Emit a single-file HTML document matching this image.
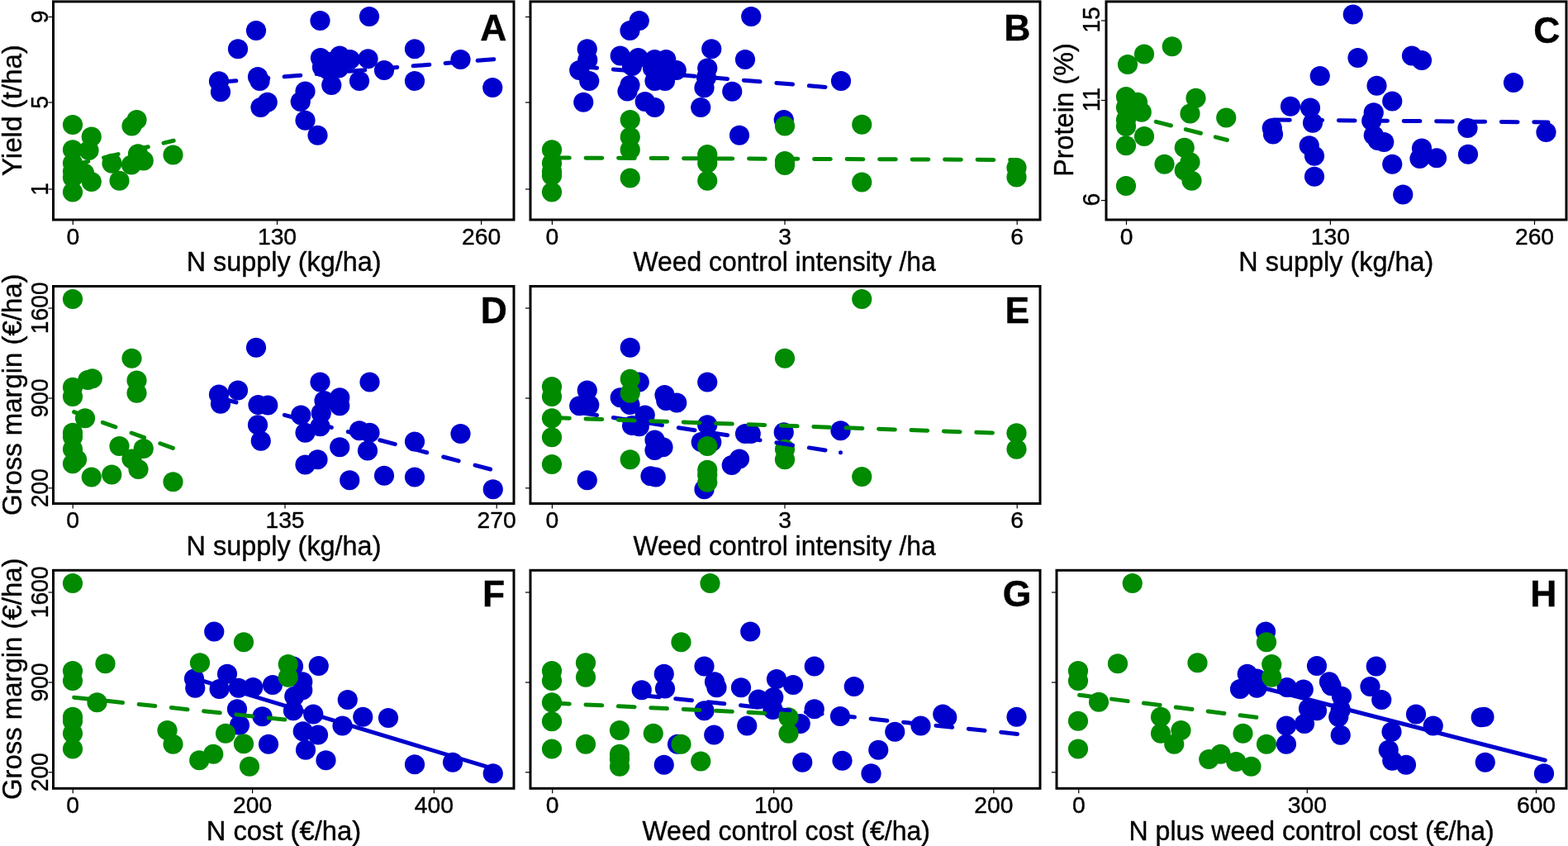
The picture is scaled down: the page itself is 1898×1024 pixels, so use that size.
<!DOCTYPE html>
<html><head><meta charset="utf-8"><title>Figure</title>
<style>
html,body{margin:0;padding:0;background:#fff;}
body{width:1898px;height:1024px;overflow:hidden;}
svg{display:block;}
svg text{font-family:'Liberation Sans', sans-serif;fill:#000;stroke:#000;stroke-width:0.4px;}
</style></head>
<body>
<svg width="1898" height="1024" viewBox="0 0 1898 1024">
<rect width="1898" height="1024" fill="#fff"/>
<g fill="#0000cd"><circle cx="265.00" cy="98.25" r="12.1"/><circle cx="267.00" cy="111.25" r="12.1"/><circle cx="288.00" cy="59.25" r="12.1"/><circle cx="310.00" cy="37.00" r="12.1"/><circle cx="312.00" cy="93.00" r="12.1"/><circle cx="314.50" cy="98.00" r="12.1"/><circle cx="315.50" cy="130.00" r="12.1"/><circle cx="323.75" cy="123.75" r="12.1"/><circle cx="363.75" cy="123.00" r="12.1"/><circle cx="369.50" cy="110.50" r="12.1"/><circle cx="369.50" cy="145.75" r="12.1"/><circle cx="384.50" cy="163.75" r="12.1"/><circle cx="387.50" cy="25.00" r="12.1"/><circle cx="447.00" cy="20.00" r="12.1"/><circle cx="388.00" cy="70.00" r="12.1"/><circle cx="390.00" cy="81.25" r="12.1"/><circle cx="397.50" cy="85.00" r="12.1"/><circle cx="411.25" cy="67.50" r="12.1"/><circle cx="410.00" cy="82.50" r="12.1"/><circle cx="423.75" cy="72.00" r="12.1"/><circle cx="400.00" cy="75.00" r="12.1"/><circle cx="445.50" cy="71.25" r="12.1"/><circle cx="401.25" cy="103.00" r="12.1"/><circle cx="435.00" cy="98.00" r="12.1"/><circle cx="465.00" cy="85.00" r="12.1"/><circle cx="502.00" cy="59.25" r="12.1"/><circle cx="502.00" cy="98.00" r="12.1"/><circle cx="557.50" cy="72.00" r="12.1"/><circle cx="596.25" cy="106.00" r="12.1"/></g>
<g fill="#008b00"><circle cx="88.00" cy="232.50" r="12.1"/><circle cx="88.00" cy="151.00" r="12.1"/><circle cx="88.00" cy="181.25" r="12.1"/><circle cx="88.00" cy="197.50" r="12.1"/><circle cx="88.00" cy="207.50" r="12.1"/><circle cx="88.00" cy="215.00" r="12.1"/><circle cx="110.75" cy="165.50" r="12.1"/><circle cx="107.50" cy="182.00" r="12.1"/><circle cx="102.00" cy="209.50" r="12.1"/><circle cx="110.75" cy="220.00" r="12.1"/><circle cx="135.50" cy="197.75" r="12.1"/><circle cx="144.50" cy="218.75" r="12.1"/><circle cx="159.50" cy="152.50" r="12.1"/><circle cx="165.50" cy="145.00" r="12.1"/><circle cx="167.00" cy="186.25" r="12.1"/><circle cx="159.00" cy="199.50" r="12.1"/><circle cx="173.75" cy="194.50" r="12.1"/><circle cx="209.50" cy="187.50" r="12.1"/></g>
<path d="M266.10 99.37L285.80 97.72M305.10 96.11L324.80 94.47M344.10 92.86L363.80 91.21M383.10 89.60L402.80 87.96M422.10 86.35L441.80 84.70M461.10 83.09L480.80 81.45M500.10 79.84L519.80 78.19M539.10 76.58L558.80 74.94M578.10 73.33L597.80 71.68" stroke="#0000cd" stroke-width="5.0" stroke-linecap="round" fill="none"/>
<path d="M89.30 199.69L106.80 195.42M125.55 190.85L143.05 186.58M161.80 182.01L179.30 177.74M198.05 173.16L210.20 170.20" stroke="#008b00" stroke-width="5.0" stroke-linecap="round" fill="none"/>
<rect x="64.50" y="1.90" width="557.50" height="264.10" fill="none" stroke="#000" stroke-width="3"/>
<line x1="88.30" y1="267.00" x2="88.30" y2="272.00" stroke="#000" stroke-width="1.2"/>
<text transform="translate(88.30 295.90) scale(1.0000 1)" font-size="28.3" text-anchor="middle">0</text>
<line x1="335.50" y1="267.00" x2="335.50" y2="272.00" stroke="#000" stroke-width="1.2"/>
<text transform="translate(335.50 295.90) scale(1.0000 1)" font-size="28.3" text-anchor="middle">130</text>
<line x1="582.60" y1="267.00" x2="582.60" y2="272.00" stroke="#000" stroke-width="1.2"/>
<text transform="translate(582.60 295.90) scale(1.0000 1)" font-size="28.3" text-anchor="middle">260</text>
<line x1="58.50" y1="20.50" x2="63.50" y2="20.50" stroke="#000" stroke-width="1.2"/>
<text transform="translate(57.50 20.30) rotate(-90) scale(0.9760 1)" font-size="29" text-anchor="middle">9</text>
<line x1="58.50" y1="124.00" x2="63.50" y2="124.00" stroke="#000" stroke-width="1.2"/>
<text transform="translate(57.50 123.80) rotate(-90) scale(0.9760 1)" font-size="29" text-anchor="middle">5</text>
<line x1="58.50" y1="229.00" x2="63.50" y2="229.00" stroke="#000" stroke-width="1.2"/>
<text transform="translate(57.50 228.80) rotate(-90) scale(0.9760 1)" font-size="29" text-anchor="middle">1</text>
<text transform="translate(343.60 328.40) scale(0.9530 1)" font-size="34" text-anchor="middle">N supply (kg/ha)</text>
<text transform="translate(25.60 133.60) rotate(-90) scale(0.9750 1)" font-size="34" text-anchor="middle">Yield (t/ha)</text>
<text transform="translate(597.25 48.90) scale(0.986 1)" font-size="45.1" font-weight="bold" text-anchor="middle">A</text>
<g fill="#0000cd"><circle cx="773.75" cy="25.00" r="12.1"/><circle cx="762.50" cy="37.00" r="12.1"/><circle cx="909.25" cy="20.00" r="12.1"/><circle cx="710.75" cy="59.25" r="12.1"/><circle cx="711.25" cy="72.50" r="12.1"/><circle cx="701.25" cy="85.00" r="12.1"/><circle cx="713.25" cy="98.00" r="12.1"/><circle cx="706.25" cy="123.75" r="12.1"/><circle cx="750.75" cy="67.50" r="12.1"/><circle cx="772.50" cy="70.00" r="12.1"/><circle cx="765.00" cy="80.00" r="12.1"/><circle cx="792.50" cy="72.00" r="12.1"/><circle cx="806.25" cy="72.00" r="12.1"/><circle cx="818.75" cy="85.00" r="12.1"/><circle cx="790.00" cy="82.50" r="12.1"/><circle cx="792.50" cy="98.00" r="12.1"/><circle cx="805.00" cy="98.00" r="12.1"/><circle cx="800.00" cy="87.50" r="12.1"/><circle cx="762.50" cy="103.00" r="12.1"/><circle cx="759.50" cy="110.50" r="12.1"/><circle cx="780.75" cy="123.00" r="12.1"/><circle cx="792.50" cy="130.00" r="12.1"/><circle cx="861.25" cy="59.25" r="12.1"/><circle cx="856.25" cy="82.50" r="12.1"/><circle cx="855.00" cy="93.75" r="12.1"/><circle cx="852.50" cy="106.25" r="12.1"/><circle cx="848.25" cy="130.00" r="12.1"/><circle cx="902.00" cy="72.00" r="12.1"/><circle cx="886.25" cy="110.75" r="12.1"/><circle cx="895.00" cy="163.75" r="12.1"/><circle cx="948.75" cy="145.00" r="12.1"/><circle cx="1018.00" cy="98.00" r="12.1"/></g>
<g fill="#008b00"><circle cx="668.00" cy="232.50" r="12.1"/><circle cx="668.00" cy="181.25" r="12.1"/><circle cx="668.00" cy="197.50" r="12.1"/><circle cx="668.00" cy="207.50" r="12.1"/><circle cx="668.00" cy="212.50" r="12.1"/><circle cx="762.75" cy="145.00" r="12.1"/><circle cx="762.75" cy="165.75" r="12.1"/><circle cx="762.75" cy="181.25" r="12.1"/><circle cx="762.75" cy="215.50" r="12.1"/><circle cx="856.25" cy="187.00" r="12.1"/><circle cx="856.25" cy="197.50" r="12.1"/><circle cx="856.25" cy="218.75" r="12.1"/><circle cx="950.00" cy="152.50" r="12.1"/><circle cx="950.00" cy="195.00" r="12.1"/><circle cx="950.00" cy="200.00" r="12.1"/><circle cx="1043.25" cy="150.75" r="12.1"/><circle cx="1043.25" cy="220.50" r="12.1"/><circle cx="1230.50" cy="203.00" r="12.1"/><circle cx="1230.50" cy="214.50" r="12.1"/></g>
<path d="M702.85 80.63L722.55 82.28M742.35 83.94L762.05 85.59M781.85 87.24L801.55 88.89M821.35 90.55L841.05 92.20M860.85 93.85L880.55 95.50M900.35 97.16L920.05 98.81M939.85 100.46L959.55 102.11M979.35 103.77L999.05 105.41M1018.00 107.00L1018.01 107.00" stroke="#0000cd" stroke-width="5.0" stroke-linecap="round" fill="none"/>
<path d="M669.60 191.01L689.30 191.09M709.10 191.18L728.80 191.27M748.60 191.36L768.30 191.45M788.10 191.53L807.80 191.62M827.60 191.71L847.30 191.80M867.10 191.88L886.80 191.97M906.60 192.06L926.30 192.15M946.10 192.24L965.80 192.32M985.60 192.41L1005.30 192.50M1025.10 192.59L1044.80 192.67M1064.60 192.76L1084.30 192.85M1104.10 192.94L1123.80 193.03M1143.60 193.11L1163.30 193.20M1183.10 193.29L1202.80 193.38M1222.60 193.46L1230.50 193.50" stroke="#008b00" stroke-width="5.0" stroke-linecap="round" fill="none"/>
<rect x="642.00" y="1.90" width="617.00" height="264.10" fill="none" stroke="#000" stroke-width="3"/>
<line x1="668.40" y1="267.00" x2="668.40" y2="272.00" stroke="#000" stroke-width="1.2"/>
<text transform="translate(668.40 295.90) scale(1.0000 1)" font-size="28.3" text-anchor="middle">0</text>
<line x1="950.00" y1="267.00" x2="950.00" y2="272.00" stroke="#000" stroke-width="1.2"/>
<text transform="translate(950.00 295.90) scale(1.0000 1)" font-size="28.3" text-anchor="middle">3</text>
<line x1="1231.20" y1="267.00" x2="1231.20" y2="272.00" stroke="#000" stroke-width="1.2"/>
<text transform="translate(1231.20 295.90) scale(1.0000 1)" font-size="28.3" text-anchor="middle">6</text>
<line x1="636.00" y1="20.50" x2="641.00" y2="20.50" stroke="#000" stroke-width="1.2"/>
<line x1="636.00" y1="124.00" x2="641.00" y2="124.00" stroke="#000" stroke-width="1.2"/>
<line x1="636.00" y1="229.00" x2="641.00" y2="229.00" stroke="#000" stroke-width="1.2"/>
<text transform="translate(949.60 328.40) scale(0.9380 1)" font-size="34" text-anchor="middle">Weed control intensity /ha</text>
<text transform="translate(1231.25 48.90) scale(0.986 1)" font-size="45.1" font-weight="bold" text-anchor="middle">B</text>
<g fill="#0000cd"><circle cx="1637.75" cy="17.50" r="12.1"/><circle cx="1643.50" cy="70.00" r="12.1"/><circle cx="1597.75" cy="92.00" r="12.1"/><circle cx="1709.00" cy="67.50" r="12.1"/><circle cx="1721.00" cy="73.00" r="12.1"/><circle cx="1666.50" cy="103.75" r="12.1"/><circle cx="1685.25" cy="122.50" r="12.1"/><circle cx="1562.00" cy="128.75" r="12.1"/><circle cx="1586.00" cy="130.50" r="12.1"/><circle cx="1589.00" cy="148.75" r="12.1"/><circle cx="1539.75" cy="155.00" r="12.1"/><circle cx="1541.00" cy="162.50" r="12.1"/><circle cx="1584.75" cy="176.25" r="12.1"/><circle cx="1591.00" cy="188.75" r="12.1"/><circle cx="1591.00" cy="213.75" r="12.1"/><circle cx="1662.75" cy="136.25" r="12.1"/><circle cx="1660.25" cy="146.25" r="12.1"/><circle cx="1662.75" cy="163.75" r="12.1"/><circle cx="1667.75" cy="170.00" r="12.1"/><circle cx="1675.25" cy="172.00" r="12.1"/><circle cx="1685.25" cy="198.75" r="12.1"/><circle cx="1698.25" cy="235.50" r="12.1"/><circle cx="1721.00" cy="179.50" r="12.1"/><circle cx="1718.50" cy="192.00" r="12.1"/><circle cx="1739.00" cy="191.25" r="12.1"/><circle cx="1776.50" cy="155.00" r="12.1"/><circle cx="1777.00" cy="186.75" r="12.1"/><circle cx="1832.00" cy="100.00" r="12.1"/><circle cx="1871.50" cy="160.00" r="12.1"/></g>
<g fill="#008b00"><circle cx="1363.00" cy="225.00" r="12.1"/><circle cx="1363.00" cy="176.25" r="12.1"/><circle cx="1363.00" cy="153.00" r="12.1"/><circle cx="1363.00" cy="145.00" r="12.1"/><circle cx="1363.00" cy="130.00" r="12.1"/><circle cx="1363.00" cy="117.00" r="12.1"/><circle cx="1365.00" cy="78.00" r="12.1"/><circle cx="1377.00" cy="123.75" r="12.1"/><circle cx="1381.75" cy="135.75" r="12.1"/><circle cx="1385.00" cy="65.50" r="12.1"/><circle cx="1385.00" cy="165.00" r="12.1"/><circle cx="1418.75" cy="56.25" r="12.1"/><circle cx="1409.50" cy="198.75" r="12.1"/><circle cx="1433.75" cy="178.75" r="12.1"/><circle cx="1440.50" cy="137.50" r="12.1"/><circle cx="1447.50" cy="118.75" r="12.1"/><circle cx="1440.50" cy="196.25" r="12.1"/><circle cx="1433.75" cy="206.25" r="12.1"/><circle cx="1442.50" cy="218.75" r="12.1"/><circle cx="1484.25" cy="142.50" r="12.1"/></g>
<path d="M1541.60 145.01L1561.30 145.19M1581.00 145.37L1600.70 145.55M1620.40 145.72L1640.10 145.90M1659.80 146.08L1679.50 146.25M1699.20 146.43L1718.90 146.61M1738.60 146.78L1758.30 146.96M1778.00 147.14L1797.70 147.31M1817.40 147.49L1837.10 147.67M1856.80 147.85L1874.00 148.00" stroke="#0000cd" stroke-width="5.0" stroke-linecap="round" fill="none"/>
<path d="M1363.30 138.04L1381.40 142.71M1399.30 147.32L1417.40 151.98M1435.30 156.59L1453.40 161.26M1471.30 165.87L1485.40 169.50" stroke="#008b00" stroke-width="5.0" stroke-linecap="round" fill="none"/>
<rect x="1339.00" y="1.90" width="557.00" height="264.10" fill="none" stroke="#000" stroke-width="3"/>
<line x1="1363.50" y1="267.00" x2="1363.50" y2="272.00" stroke="#000" stroke-width="1.2"/>
<text transform="translate(1363.50 295.90) scale(1.0000 1)" font-size="28.3" text-anchor="middle">0</text>
<line x1="1610.40" y1="267.00" x2="1610.40" y2="272.00" stroke="#000" stroke-width="1.2"/>
<text transform="translate(1610.40 295.90) scale(1.0000 1)" font-size="28.3" text-anchor="middle">130</text>
<line x1="1857.50" y1="267.00" x2="1857.50" y2="272.00" stroke="#000" stroke-width="1.2"/>
<text transform="translate(1857.50 295.90) scale(1.0000 1)" font-size="28.3" text-anchor="middle">260</text>
<line x1="1333.00" y1="25.00" x2="1338.00" y2="25.00" stroke="#000" stroke-width="1.2"/>
<text transform="translate(1330.60 24.00) rotate(-90) scale(0.9760 1)" font-size="29" text-anchor="middle">15</text>
<line x1="1333.00" y1="121.50" x2="1338.00" y2="121.50" stroke="#000" stroke-width="1.2"/>
<text transform="translate(1330.60 120.50) rotate(-90) scale(0.9760 1)" font-size="29" text-anchor="middle">11</text>
<line x1="1333.00" y1="242.60" x2="1338.00" y2="242.60" stroke="#000" stroke-width="1.2"/>
<text transform="translate(1330.60 241.60) rotate(-90) scale(0.9760 1)" font-size="29" text-anchor="middle">6</text>
<text transform="translate(1617.30 328.40) scale(0.9530 1)" font-size="34" text-anchor="middle">N supply (kg/ha)</text>
<text transform="translate(1299.30 133.00) rotate(-90) scale(0.9500 1)" font-size="34" text-anchor="middle">Protein (%)</text>
<text transform="translate(1872.25 52.30) scale(0.986 1)" font-size="45.1" font-weight="bold" text-anchor="middle">C</text>
<g fill="#0000cd"><circle cx="310.00" cy="420.75" r="12.1"/><circle cx="265.00" cy="477.50" r="12.1"/><circle cx="267.00" cy="488.75" r="12.1"/><circle cx="288.00" cy="472.50" r="12.1"/><circle cx="312.50" cy="490.00" r="12.1"/><circle cx="324.25" cy="490.50" r="12.1"/><circle cx="312.00" cy="514.25" r="12.1"/><circle cx="315.75" cy="533.75" r="12.1"/><circle cx="387.50" cy="462.50" r="12.1"/><circle cx="447.50" cy="462.50" r="12.1"/><circle cx="411.25" cy="481.25" r="12.1"/><circle cx="411.25" cy="491.25" r="12.1"/><circle cx="392.50" cy="485.00" r="12.1"/><circle cx="388.75" cy="500.00" r="12.1"/><circle cx="387.50" cy="516.25" r="12.1"/><circle cx="364.25" cy="502.50" r="12.1"/><circle cx="369.50" cy="523.75" r="12.1"/><circle cx="435.00" cy="521.25" r="12.1"/><circle cx="447.50" cy="523.75" r="12.1"/><circle cx="411.25" cy="541.25" r="12.1"/><circle cx="445.00" cy="545.50" r="12.1"/><circle cx="369.50" cy="562.50" r="12.1"/><circle cx="384.50" cy="556.25" r="12.1"/><circle cx="423.25" cy="581.25" r="12.1"/><circle cx="465.00" cy="575.75" r="12.1"/><circle cx="502.00" cy="534.50" r="12.1"/><circle cx="502.00" cy="577.50" r="12.1"/><circle cx="557.50" cy="525.00" r="12.1"/><circle cx="596.75" cy="592.25" r="12.1"/></g>
<g fill="#008b00"><circle cx="88.00" cy="362.00" r="12.1"/><circle cx="159.50" cy="433.75" r="12.1"/><circle cx="111.75" cy="458.25" r="12.1"/><circle cx="106.25" cy="460.00" r="12.1"/><circle cx="88.00" cy="468.75" r="12.1"/><circle cx="88.00" cy="480.00" r="12.1"/><circle cx="165.50" cy="460.50" r="12.1"/><circle cx="165.50" cy="475.75" r="12.1"/><circle cx="103.00" cy="506.25" r="12.1"/><circle cx="88.00" cy="523.75" r="12.1"/><circle cx="88.00" cy="528.75" r="12.1"/><circle cx="88.00" cy="543.75" r="12.1"/><circle cx="88.00" cy="561.25" r="12.1"/><circle cx="93.00" cy="556.25" r="12.1"/><circle cx="144.50" cy="540.00" r="12.1"/><circle cx="173.75" cy="543.00" r="12.1"/><circle cx="159.50" cy="555.50" r="12.1"/><circle cx="167.50" cy="568.00" r="12.1"/><circle cx="110.75" cy="577.50" r="12.1"/><circle cx="135.25" cy="574.50" r="12.1"/><circle cx="209.50" cy="583.25" r="12.1"/></g>
<path d="M267.50 482.16L286.00 487.03M305.95 492.28L324.45 497.15M344.40 502.40L362.90 507.27M382.85 512.53L401.35 517.40M421.30 522.65L439.80 527.52M459.75 532.77L478.25 537.64M498.20 542.90L516.70 547.77M536.65 553.02L555.15 557.89M575.10 563.14L593.60 568.01" stroke="#0000cd" stroke-width="5.0" stroke-linecap="round" fill="none"/>
<path d="M89.60 498.59L105.10 504.26M124.35 511.30L139.85 516.97M159.10 524.01L174.60 529.68M193.85 536.73L209.35 542.40" stroke="#008b00" stroke-width="5.0" stroke-linecap="round" fill="none"/>
<rect x="64.50" y="346.50" width="557.50" height="263.00" fill="none" stroke="#000" stroke-width="3"/>
<line x1="88.20" y1="610.50" x2="88.20" y2="615.50" stroke="#000" stroke-width="1.2"/>
<text transform="translate(88.20 639.40) scale(1.0000 1)" font-size="28.3" text-anchor="middle">0</text>
<line x1="345.00" y1="610.50" x2="345.00" y2="615.50" stroke="#000" stroke-width="1.2"/>
<text transform="translate(345.00 639.40) scale(1.0000 1)" font-size="28.3" text-anchor="middle">135</text>
<line x1="601.20" y1="610.50" x2="601.20" y2="615.50" stroke="#000" stroke-width="1.2"/>
<text transform="translate(601.20 639.40) scale(1.0000 1)" font-size="28.3" text-anchor="middle">270</text>
<line x1="58.50" y1="373.00" x2="63.50" y2="373.00" stroke="#000" stroke-width="1.2"/>
<text transform="translate(57.50 372.80) rotate(-90) scale(0.9760 1)" font-size="29" text-anchor="middle">1600</text>
<line x1="58.50" y1="482.00" x2="63.50" y2="482.00" stroke="#000" stroke-width="1.2"/>
<text transform="translate(57.50 481.80) rotate(-90) scale(0.9760 1)" font-size="29" text-anchor="middle">900</text>
<line x1="58.50" y1="590.80" x2="63.50" y2="590.80" stroke="#000" stroke-width="1.2"/>
<text transform="translate(57.50 590.60) rotate(-90) scale(0.9760 1)" font-size="29" text-anchor="middle">200</text>
<text transform="translate(343.50 671.90) scale(0.9530 1)" font-size="34" text-anchor="middle">N supply (kg/ha)</text>
<text transform="translate(25.60 477.80) rotate(-90) scale(0.9680 1)" font-size="34" text-anchor="middle">Gross margin (€/ha)</text>
<text transform="translate(597.90 390.90) scale(0.986 1)" font-size="45.1" font-weight="bold" text-anchor="middle">D</text>
<g fill="#0000cd"><circle cx="762.75" cy="420.75" r="12.1"/><circle cx="710.75" cy="472.50" r="12.1"/><circle cx="701.25" cy="491.25" r="12.1"/><circle cx="713.25" cy="490.00" r="12.1"/><circle cx="773.75" cy="462.50" r="12.1"/><circle cx="750.75" cy="481.25" r="12.1"/><circle cx="762.50" cy="490.00" r="12.1"/><circle cx="780.75" cy="502.50" r="12.1"/><circle cx="765.00" cy="515.00" r="12.1"/><circle cx="773.75" cy="516.25" r="12.1"/><circle cx="804.50" cy="478.00" r="12.1"/><circle cx="806.25" cy="485.00" r="12.1"/><circle cx="819.25" cy="487.50" r="12.1"/><circle cx="792.50" cy="532.50" r="12.1"/><circle cx="802.50" cy="541.25" r="12.1"/><circle cx="792.50" cy="545.00" r="12.1"/><circle cx="856.25" cy="462.50" r="12.1"/><circle cx="856.25" cy="514.25" r="12.1"/><circle cx="848.75" cy="535.00" r="12.1"/><circle cx="861.25" cy="535.00" r="12.1"/><circle cx="902.00" cy="525.00" r="12.1"/><circle cx="908.75" cy="525.00" r="12.1"/><circle cx="948.75" cy="523.25" r="12.1"/><circle cx="1017.50" cy="521.25" r="12.1"/><circle cx="895.00" cy="555.50" r="12.1"/><circle cx="885.75" cy="563.00" r="12.1"/><circle cx="710.75" cy="581.25" r="12.1"/><circle cx="787.50" cy="576.25" r="12.1"/><circle cx="793.75" cy="577.50" r="12.1"/><circle cx="852.50" cy="592.25" r="12.1"/></g>
<g fill="#008b00"><circle cx="668.00" cy="468.00" r="12.1"/><circle cx="668.00" cy="480.00" r="12.1"/><circle cx="668.00" cy="506.25" r="12.1"/><circle cx="668.00" cy="529.25" r="12.1"/><circle cx="668.00" cy="562.00" r="12.1"/><circle cx="762.75" cy="458.75" r="12.1"/><circle cx="762.75" cy="475.75" r="12.1"/><circle cx="762.75" cy="556.25" r="12.1"/><circle cx="856.25" cy="540.00" r="12.1"/><circle cx="856.25" cy="568.75" r="12.1"/><circle cx="856.25" cy="575.00" r="12.1"/><circle cx="856.25" cy="583.75" r="12.1"/><circle cx="950.00" cy="433.75" r="12.1"/><circle cx="950.00" cy="543.75" r="12.1"/><circle cx="950.00" cy="556.25" r="12.1"/><circle cx="1043.25" cy="362.00" r="12.1"/><circle cx="1043.25" cy="577.00" r="12.1"/><circle cx="1230.50" cy="524.25" r="12.1"/><circle cx="1230.50" cy="543.75" r="12.1"/></g>
<path d="M702.85 499.50L722.55 502.52M742.35 505.55L762.05 508.57M781.85 511.61L801.55 514.63M821.35 517.67L841.05 520.69M860.85 523.73L880.55 526.75M900.35 529.78L920.05 532.81M939.85 535.84L959.55 538.86M979.35 541.90L999.05 544.92M1017.50 547.75L1017.51 547.75" stroke="#0000cd" stroke-width="5.0" stroke-linecap="round" fill="none"/>
<path d="M669.60 505.56L689.30 506.24M709.00 506.92L728.70 507.60M748.40 508.29L768.10 508.97M787.80 509.65L807.50 510.34M827.20 511.02L846.90 511.70M866.60 512.38L886.30 513.07M906.00 513.75L925.70 514.43M945.40 515.12L965.10 515.80M984.80 516.48L1004.50 517.17M1024.20 517.85L1043.90 518.53M1063.60 519.21L1083.30 519.90M1103.00 520.58L1122.70 521.26M1142.40 521.95L1162.10 522.63M1181.80 523.31L1201.50 523.99M1221.20 524.68L1230.50 525.00" stroke="#008b00" stroke-width="5.0" stroke-linecap="round" fill="none"/>
<rect x="642.00" y="346.50" width="617.00" height="263.00" fill="none" stroke="#000" stroke-width="3"/>
<line x1="668.40" y1="610.50" x2="668.40" y2="615.50" stroke="#000" stroke-width="1.2"/>
<text transform="translate(668.40 639.40) scale(1.0000 1)" font-size="28.3" text-anchor="middle">0</text>
<line x1="950.00" y1="610.50" x2="950.00" y2="615.50" stroke="#000" stroke-width="1.2"/>
<text transform="translate(950.00 639.40) scale(1.0000 1)" font-size="28.3" text-anchor="middle">3</text>
<line x1="1231.20" y1="610.50" x2="1231.20" y2="615.50" stroke="#000" stroke-width="1.2"/>
<text transform="translate(1231.20 639.40) scale(1.0000 1)" font-size="28.3" text-anchor="middle">6</text>
<line x1="636.00" y1="373.00" x2="641.00" y2="373.00" stroke="#000" stroke-width="1.2"/>
<line x1="636.00" y1="482.00" x2="641.00" y2="482.00" stroke="#000" stroke-width="1.2"/>
<line x1="636.00" y1="590.80" x2="641.00" y2="590.80" stroke="#000" stroke-width="1.2"/>
<text transform="translate(949.60 671.90) scale(0.9380 1)" font-size="34" text-anchor="middle">Weed control intensity /ha</text>
<text transform="translate(1231.40 390.90) scale(0.986 1)" font-size="45.1" font-weight="bold" text-anchor="middle">E</text>
<g fill="#0000cd"><circle cx="502.00" cy="925.25" r="12.1"/><circle cx="548.00" cy="922.75" r="12.1"/><circle cx="596.75" cy="936.25" r="12.1"/><circle cx="470.00" cy="869.00" r="12.1"/><circle cx="439.25" cy="867.75" r="12.1"/><circle cx="420.75" cy="847.00" r="12.1"/><circle cx="414.50" cy="878.50" r="12.1"/><circle cx="394.50" cy="920.25" r="12.1"/><circle cx="370.00" cy="907.75" r="12.1"/><circle cx="325.00" cy="900.75" r="12.1"/><circle cx="366.75" cy="885.25" r="12.1"/><circle cx="385.00" cy="889.50" r="12.1"/><circle cx="379.25" cy="864.50" r="12.1"/><circle cx="355.00" cy="860.25" r="12.1"/><circle cx="385.75" cy="806.00" r="12.1"/><circle cx="355.00" cy="806.50" r="12.1"/><circle cx="366.25" cy="825.25" r="12.1"/><circle cx="366.25" cy="835.25" r="12.1"/><circle cx="356.25" cy="842.75" r="12.1"/><circle cx="330.00" cy="829.00" r="12.1"/><circle cx="306.25" cy="832.00" r="12.1"/><circle cx="288.75" cy="832.75" r="12.1"/><circle cx="275.00" cy="815.75" r="12.1"/><circle cx="265.50" cy="834.00" r="12.1"/><circle cx="287.00" cy="858.25" r="12.1"/><circle cx="290.00" cy="877.75" r="12.1"/><circle cx="317.50" cy="867.25" r="12.1"/><circle cx="259.25" cy="764.50" r="12.1"/><circle cx="235.00" cy="821.50" r="12.1"/><circle cx="236.25" cy="832.75" r="12.1"/></g>
<g fill="#008b00"><circle cx="88.00" cy="706.00" r="12.1"/><circle cx="88.00" cy="812.00" r="12.1"/><circle cx="88.00" cy="824.00" r="12.1"/><circle cx="127.50" cy="803.25" r="12.1"/><circle cx="117.50" cy="850.25" r="12.1"/><circle cx="88.00" cy="867.75" r="12.1"/><circle cx="88.00" cy="872.75" r="12.1"/><circle cx="88.00" cy="887.75" r="12.1"/><circle cx="88.00" cy="906.50" r="12.1"/><circle cx="202.50" cy="884.00" r="12.1"/><circle cx="209.50" cy="900.75" r="12.1"/><circle cx="242.00" cy="802.25" r="12.1"/><circle cx="295.00" cy="777.25" r="12.1"/><circle cx="348.75" cy="804.00" r="12.1"/><circle cx="348.75" cy="819.75" r="12.1"/><circle cx="273.00" cy="887.75" r="12.1"/><circle cx="295.00" cy="900.25" r="12.1"/><circle cx="241.25" cy="920.25" r="12.1"/><circle cx="258.25" cy="912.75" r="12.1"/><circle cx="302.00" cy="927.75" r="12.1"/></g>
<path d="M235.00 821.00L597.00 930.40" stroke="#0000cd" stroke-width="5.0" stroke-linecap="round" fill="none"/>
<path d="M89.60 844.17L109.30 846.25M128.85 848.31L148.55 850.39M168.10 852.45L187.80 854.53M207.35 856.59L227.05 858.66M246.60 860.73L266.30 862.80M285.85 864.87L305.55 866.94M325.10 869.01L344.80 871.08" stroke="#008b00" stroke-width="5.0" stroke-linecap="round" fill="none"/>
<rect x="64.50" y="690.30" width="557.50" height="264.00" fill="none" stroke="#000" stroke-width="3"/>
<line x1="88.20" y1="955.30" x2="88.20" y2="960.30" stroke="#000" stroke-width="1.2"/>
<text transform="translate(88.20 984.20) scale(1.0000 1)" font-size="28.3" text-anchor="middle">0</text>
<line x1="305.60" y1="955.30" x2="305.60" y2="960.30" stroke="#000" stroke-width="1.2"/>
<text transform="translate(305.60 984.20) scale(1.0000 1)" font-size="28.3" text-anchor="middle">200</text>
<line x1="525.40" y1="955.30" x2="525.40" y2="960.30" stroke="#000" stroke-width="1.2"/>
<text transform="translate(525.40 984.20) scale(1.0000 1)" font-size="28.3" text-anchor="middle">400</text>
<line x1="58.50" y1="717.00" x2="63.50" y2="717.00" stroke="#000" stroke-width="1.2"/>
<text transform="translate(57.50 716.80) rotate(-90) scale(0.9760 1)" font-size="29" text-anchor="middle">1600</text>
<line x1="58.50" y1="826.00" x2="63.50" y2="826.00" stroke="#000" stroke-width="1.2"/>
<text transform="translate(57.50 825.80) rotate(-90) scale(0.9760 1)" font-size="29" text-anchor="middle">900</text>
<line x1="58.50" y1="934.80" x2="63.50" y2="934.80" stroke="#000" stroke-width="1.2"/>
<text transform="translate(57.50 934.60) rotate(-90) scale(0.9760 1)" font-size="29" text-anchor="middle">200</text>
<text transform="translate(343.40 1016.70) scale(0.9640 1)" font-size="34" text-anchor="middle">N cost (€/ha)</text>
<text transform="translate(25.60 821.80) rotate(-90) scale(0.9680 1)" font-size="34" text-anchor="middle">Gross margin (€/ha)</text>
<text transform="translate(597.60 733.90) scale(0.986 1)" font-size="45.1" font-weight="bold" text-anchor="middle">F</text>
<g fill="#0000cd"><circle cx="908.25" cy="764.50" r="12.1"/><circle cx="852.50" cy="806.50" r="12.1"/><circle cx="985.75" cy="806.50" r="12.1"/><circle cx="803.75" cy="815.75" r="12.1"/><circle cx="776.75" cy="835.25" r="12.1"/><circle cx="805.00" cy="833.50" r="12.1"/><circle cx="865.00" cy="825.25" r="12.1"/><circle cx="867.50" cy="832.25" r="12.1"/><circle cx="897.00" cy="832.25" r="12.1"/><circle cx="940.00" cy="822.00" r="12.1"/><circle cx="960.00" cy="829.00" r="12.1"/><circle cx="1033.75" cy="831.00" r="12.1"/><circle cx="918.00" cy="846.50" r="12.1"/><circle cx="936.25" cy="844.00" r="12.1"/><circle cx="935.50" cy="859.00" r="12.1"/><circle cx="852.50" cy="860.25" r="12.1"/><circle cx="985.75" cy="858.25" r="12.1"/><circle cx="1017.00" cy="867.00" r="12.1"/><circle cx="968.75" cy="876.00" r="12.1"/><circle cx="904.25" cy="878.50" r="12.1"/><circle cx="864.25" cy="889.50" r="12.1"/><circle cx="1083.25" cy="885.75" r="12.1"/><circle cx="1063.25" cy="907.75" r="12.1"/><circle cx="820.00" cy="900.75" r="12.1"/><circle cx="803.75" cy="925.75" r="12.1"/><circle cx="971.25" cy="922.75" r="12.1"/><circle cx="1019.50" cy="920.75" r="12.1"/><circle cx="1054.50" cy="936.25" r="12.1"/><circle cx="1114.50" cy="878.50" r="12.1"/><circle cx="1141.25" cy="864.50" r="12.1"/><circle cx="1146.25" cy="868.25" r="12.1"/><circle cx="1230.50" cy="867.75" r="12.1"/></g>
<g fill="#008b00"><circle cx="859.50" cy="706.00" r="12.1"/><circle cx="824.50" cy="777.25" r="12.1"/><circle cx="709.00" cy="802.25" r="12.1"/><circle cx="709.00" cy="819.75" r="12.1"/><circle cx="668.00" cy="812.00" r="12.1"/><circle cx="668.00" cy="824.00" r="12.1"/><circle cx="668.00" cy="850.25" r="12.1"/><circle cx="668.00" cy="873.25" r="12.1"/><circle cx="668.00" cy="906.50" r="12.1"/><circle cx="709.00" cy="900.75" r="12.1"/><circle cx="750.00" cy="884.00" r="12.1"/><circle cx="750.00" cy="912.75" r="12.1"/><circle cx="750.00" cy="919.00" r="12.1"/><circle cx="750.00" cy="927.75" r="12.1"/><circle cx="790.75" cy="887.75" r="12.1"/><circle cx="824.50" cy="900.75" r="12.1"/><circle cx="848.25" cy="921.50" r="12.1"/><circle cx="954.50" cy="868.25" r="12.1"/><circle cx="954.50" cy="887.75" r="12.1"/></g>
<path d="M778.35 841.67L798.05 843.70M817.75 845.73L837.45 847.76M857.15 849.79L876.85 851.82M896.55 853.85L916.25 855.89M935.95 857.92L955.65 859.95M975.35 861.98L995.05 864.01M1014.75 866.04L1034.45 868.08M1054.15 870.11L1073.85 872.14M1093.55 874.17L1113.25 876.20M1132.95 878.23L1152.65 880.27M1172.35 882.30L1192.05 884.33M1211.75 886.36L1231.45 888.39" stroke="#0000cd" stroke-width="5.0" stroke-linecap="round" fill="none"/>
<path d="M669.60 851.08L689.30 852.00M709.00 852.93L728.70 853.86M748.40 854.79L768.10 855.72M787.80 856.65L807.50 857.57M827.20 858.50L846.90 859.43M866.60 860.36L886.30 861.29M906.00 862.21L925.70 863.14M945.40 864.07L954.50 864.50" stroke="#008b00" stroke-width="5.0" stroke-linecap="round" fill="none"/>
<rect x="642.00" y="690.30" width="617.00" height="264.00" fill="none" stroke="#000" stroke-width="3"/>
<line x1="668.70" y1="955.30" x2="668.70" y2="960.30" stroke="#000" stroke-width="1.2"/>
<text transform="translate(668.70 984.20) scale(1.0000 1)" font-size="28.3" text-anchor="middle">0</text>
<line x1="936.60" y1="955.30" x2="936.60" y2="960.30" stroke="#000" stroke-width="1.2"/>
<text transform="translate(936.60 984.20) scale(1.0000 1)" font-size="28.3" text-anchor="middle">100</text>
<line x1="1202.80" y1="955.30" x2="1202.80" y2="960.30" stroke="#000" stroke-width="1.2"/>
<text transform="translate(1202.80 984.20) scale(1.0000 1)" font-size="28.3" text-anchor="middle">200</text>
<line x1="636.00" y1="717.00" x2="641.00" y2="717.00" stroke="#000" stroke-width="1.2"/>
<line x1="636.00" y1="826.00" x2="641.00" y2="826.00" stroke="#000" stroke-width="1.2"/>
<line x1="636.00" y1="934.80" x2="641.00" y2="934.80" stroke="#000" stroke-width="1.2"/>
<text transform="translate(951.70 1016.70) scale(0.9430 1)" font-size="34" text-anchor="middle">Weed control cost (€/ha)</text>
<text transform="translate(1231.00 734.40) scale(0.986 1)" font-size="45.1" font-weight="bold" text-anchor="middle">G</text>
<g fill="#0000cd"><circle cx="1734.75" cy="878.50" r="12.1"/><circle cx="1714.00" cy="864.50" r="12.1"/><circle cx="1792.75" cy="868.25" r="12.1"/><circle cx="1796.50" cy="867.75" r="12.1"/><circle cx="1797.75" cy="922.75" r="12.1"/><circle cx="1869.00" cy="936.25" r="12.1"/><circle cx="1684.50" cy="885.75" r="12.1"/><circle cx="1680.75" cy="907.75" r="12.1"/><circle cx="1685.25" cy="920.75" r="12.1"/><circle cx="1702.00" cy="925.75" r="12.1"/><circle cx="1665.75" cy="806.50" r="12.1"/><circle cx="1658.50" cy="831.00" r="12.1"/><circle cx="1672.25" cy="847.00" r="12.1"/><circle cx="1594.00" cy="806.00" r="12.1"/><circle cx="1609.00" cy="825.25" r="12.1"/><circle cx="1611.50" cy="830.25" r="12.1"/><circle cx="1624.00" cy="842.75" r="12.1"/><circle cx="1622.75" cy="859.00" r="12.1"/><circle cx="1620.25" cy="867.75" r="12.1"/><circle cx="1622.75" cy="889.75" r="12.1"/><circle cx="1584.00" cy="857.75" r="12.1"/><circle cx="1594.00" cy="860.25" r="12.1"/><circle cx="1579.00" cy="876.00" r="12.1"/><circle cx="1557.00" cy="878.50" r="12.1"/><circle cx="1557.00" cy="900.75" r="12.1"/><circle cx="1557.75" cy="832.00" r="12.1"/><circle cx="1577.75" cy="834.50" r="12.1"/><circle cx="1509.75" cy="815.75" r="12.1"/><circle cx="1521.50" cy="821.50" r="12.1"/><circle cx="1501.00" cy="834.00" r="12.1"/><circle cx="1521.50" cy="832.75" r="12.1"/><circle cx="1532.00" cy="764.50" r="12.1"/></g>
<g fill="#008b00"><circle cx="1370.75" cy="706.00" r="12.1"/><circle cx="1305.00" cy="812.00" r="12.1"/><circle cx="1305.00" cy="824.00" r="12.1"/><circle cx="1353.00" cy="803.25" r="12.1"/><circle cx="1449.50" cy="802.25" r="12.1"/><circle cx="1330.00" cy="849.75" r="12.1"/><circle cx="1305.00" cy="872.75" r="12.1"/><circle cx="1305.00" cy="906.50" r="12.1"/><circle cx="1405.00" cy="867.75" r="12.1"/><circle cx="1405.00" cy="887.75" r="12.1"/><circle cx="1429.50" cy="884.00" r="12.1"/><circle cx="1421.25" cy="900.75" r="12.1"/><circle cx="1504.50" cy="887.75" r="12.1"/><circle cx="1533.00" cy="900.75" r="12.1"/><circle cx="1477.50" cy="912.75" r="12.1"/><circle cx="1463.25" cy="919.00" r="12.1"/><circle cx="1496.25" cy="922.00" r="12.1"/><circle cx="1514.50" cy="927.75" r="12.1"/><circle cx="1533.00" cy="777.25" r="12.1"/><circle cx="1539.25" cy="804.00" r="12.1"/><circle cx="1539.25" cy="819.75" r="12.1"/></g>
<path d="M1501.00 825.50L1870.25 920.25" stroke="#0000cd" stroke-width="5.0" stroke-linecap="round" fill="none"/>
<path d="M1306.60 841.20L1326.30 843.70M1345.50 846.13L1365.20 848.63M1384.40 851.06L1404.10 853.56M1423.30 855.99L1443.00 858.49M1462.20 860.92L1481.90 863.42M1501.10 865.85L1520.80 868.35" stroke="#008b00" stroke-width="5.0" stroke-linecap="round" fill="none"/>
<rect x="1279.00" y="690.30" width="617.00" height="264.00" fill="none" stroke="#000" stroke-width="3"/>
<line x1="1305.75" y1="955.30" x2="1305.75" y2="960.30" stroke="#000" stroke-width="1.2"/>
<text transform="translate(1305.75 984.20) scale(1.0000 1)" font-size="28.3" text-anchor="middle">0</text>
<line x1="1582.30" y1="955.30" x2="1582.30" y2="960.30" stroke="#000" stroke-width="1.2"/>
<text transform="translate(1582.30 984.20) scale(1.0000 1)" font-size="28.3" text-anchor="middle">300</text>
<line x1="1859.50" y1="955.30" x2="1859.50" y2="960.30" stroke="#000" stroke-width="1.2"/>
<text transform="translate(1859.50 984.20) scale(1.0000 1)" font-size="28.3" text-anchor="middle">600</text>
<line x1="1273.00" y1="717.00" x2="1278.00" y2="717.00" stroke="#000" stroke-width="1.2"/>
<line x1="1273.00" y1="826.00" x2="1278.00" y2="826.00" stroke="#000" stroke-width="1.2"/>
<line x1="1273.00" y1="934.80" x2="1278.00" y2="934.80" stroke="#000" stroke-width="1.2"/>
<text transform="translate(1587.60 1016.70) scale(0.9440 1)" font-size="34" text-anchor="middle">N plus weed control cost (€/ha)</text>
<text transform="translate(1868.40 733.90) scale(0.986 1)" font-size="45.1" font-weight="bold" text-anchor="middle">H</text>
</svg>
</body></html>
